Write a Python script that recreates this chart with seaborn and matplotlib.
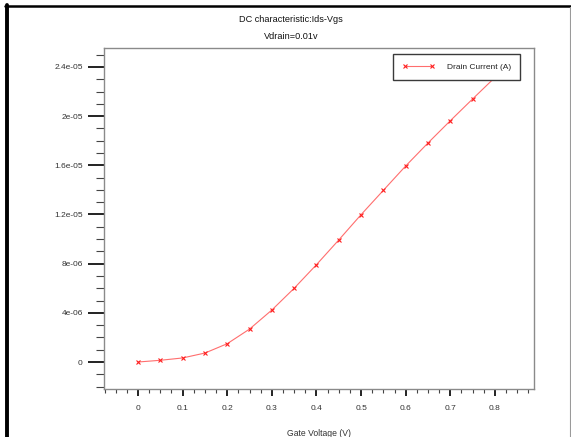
import matplotlib
matplotlib.use("Agg")
import matplotlib.pyplot as plt
from matplotlib.ticker import MultipleLocator, FixedLocator
from matplotlib.lines import Line2D
import seaborn as sns
import pandas as pd

# ---- data ----
gate_voltage = [0.0, 0.05, 0.10, 0.15, 0.20, 0.25, 0.30, 0.35, 0.40, 0.45,
                0.50, 0.55, 0.60, 0.65, 0.70, 0.75, 0.80]
drain_current = [0.0, 0.14e-6, 0.33e-6, 0.73e-6, 1.49e-6, 2.68e-6, 4.23e-6, 6.0e-6,
                 7.92e-6, 9.93e-6, 11.99e-6, 13.97e-6, 15.95e-6, 17.82e-6, 19.63e-6,
                 21.4e-6, 23.15e-6]
x_ticks = [0, 0.1, 0.2, 0.3, 0.4, 0.5, 0.6, 0.7, 0.8]
x_tick_labels = ["0", "0.1", "0.2", "0.3", "0.4", "0.5", "0.6", "0.7", "0.8"]
y_ticks = [0, 4e-6, 8e-6, 1.2e-5, 1.6e-5, 2e-5, 2.4e-5]
y_tick_labels = ["0", "4e-06", "8e-06", "1.2e-05", "1.6e-05", "2e-05", "2.4e-05"]
title = "DC characteristic:Ids-Vgs"
subtitle = "Vdrain=0.01v"
x_label = "Gate Voltage (V)"
series_label = "Drain Current (A)"

df = pd.DataFrame({"Vg": gate_voltage, "Id": drain_current})

sns.set_style("white")
plt.rcParams["font.family"] = ["Liberation Sans", "DejaVu Sans"]
plt.rcParams["font.size"] = 6

W, H = 571, 437
fig = plt.figure(figsize=(W / 100, H / 100), dpi=100)
fig.patch.set_facecolor("white")

L, R, T, B = 103.8, 534.2, 48.3, 389.3
ax = fig.add_axes([L / W, 1 - B / H, (R - L) / W, (B - T) / H])

line_color = "#ff6e6e"
marker_color = "#ff1f1f"
sns.lineplot(data=df, x="Vg", y="Id", ax=ax, color=line_color, linewidth=0.8,
             marker="x", markersize=2.3, markeredgecolor=marker_color,
             markeredgewidth=0.8, label=series_label, legend=False)

ax.set_xlim(-0.0767, 0.888)
ax.set_ylim(-2.22e-6, 2.552e-5)

ax.xaxis.set_major_locator(FixedLocator(x_ticks))
ax.set_xticklabels(x_tick_labels)
ax.xaxis.set_minor_locator(MultipleLocator(0.025))
ax.yaxis.set_major_locator(FixedLocator(y_ticks))
ax.set_yticklabels(y_tick_labels)
ax.yaxis.set_minor_locator(MultipleLocator(1e-6))

ax.tick_params(axis="x", which="major", direction="out", length=5.3, width=1.3,
               color="#111111", pad=6.2, labelsize=6, labelcolor="#333333")
ax.tick_params(axis="x", which="minor", direction="out", length=3.0, width=0.8,
               color="#444444")
ax.tick_params(axis="y", which="major", direction="out", length=11.3, width=1.3,
               color="#111111", pad=3.8, labelsize=6, labelcolor="#333333")
ax.tick_params(axis="y", which="minor", direction="out", length=5.5, width=0.8,
               color="#444444")
ax.tick_params(bottom=True, left=True, which="both")

for s in ax.spines.values():
    s.set_visible(True)
    s.set_color("#8a8a8a")
    s.set_linewidth(1.0)

ax.set_xlabel(x_label, fontsize=6.2, color="#333333")
ax.xaxis.set_label_coords(0.5, -(429.5 - B) / (B - T), transform=ax.transAxes)
ax.set_ylabel("")

fig.text(291 / W, 1 - 20 / H, title, ha="center", va="center", fontsize=6.6,
         color="#111111")
fig.text(291 / W, 1 - 36.5 / H, subtitle, ha="center", va="center", fontsize=6.6,
         color="#111111")

handle = Line2D([], [], color=line_color, linewidth=0.8, marker="x", markersize=2.3,
                markeredgecolor=marker_color, markeredgewidth=0.8)
leg = ax.legend([handle], [series_label], loc="upper right",
                bbox_to_anchor=((520 - L) / (R - L), (B - 54.3) / (B - T)),
                borderaxespad=0, frameon=True, fancybox=False, framealpha=1,
                edgecolor="#3a3a3a", fontsize=6, numpoints=2, handlelength=3.9,
                handletextpad=1.5, borderpad=1.05)
leg.get_frame().set_linewidth(1.0)
for t in leg.get_texts():
    t.set_color("#222222")

# screenshot frame borders
fig.add_artist(Line2D([5 / W, 1], [1 - 6 / H, 1 - 6 / H], color="black",
                      linewidth=1.8, transform=fig.transFigure))
fig.add_artist(Line2D([7 / W, 7 / W], [0, 1 - 5 / H], color="black",
                      linewidth=2.8, transform=fig.transFigure))
fig.add_artist(Line2D([569.5 / W, 569.5 / W], [0, 1 - 7 / H], color="#9a9a9a",
                      linewidth=0.8, transform=fig.transFigure))

fig.savefig("out.png", dpi=100, facecolor="white")
